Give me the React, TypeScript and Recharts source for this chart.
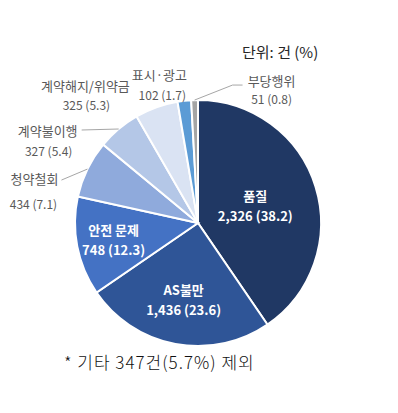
import React from 'react';
import { PieChart, Pie, Cell } from 'recharts';

const categories = ['품질', 'AS불만', '안전 문제', '청약철회', '계약불이행', '계약해지/위약금', '표시·광고', '부당행위'];
const counts = [2326, 1436, 748, 434, 327, 325, 102, 51];
const percents = ['38.2', '23.6', '12.3', '7.1', '5.4', '5.3', '1.7', '0.8'];
const colors = ['#203864', '#2f5597', '#4472c4', '#8faadc', '#b4c7e7', '#dae3f3', '#5b9bd5', '#a5a5a5'];

const data = categories.map((name, i) => ({ name, value: counts[i], pct: percents[i] }));

const FONT = '"Noto Sans CJK KR", "Noto Sans", sans-serif';
const RADIAN = Math.PI / 180;

// label placement: inside labels sit on a radius, outside ones are offset from the slice edge
const labelLayout: any[] = [
  { inside: true, r: 60 },
  { inside: true, r: 78 },
  { inside: true, r: 86 },
  { line: [[-26, 11]], name: [-53, 9], val: [-54, 34] },
  { line: [[-37, 1]], name: [-71, 1], val: [-70, 21] },
  { line: [], name: [-71, -22], val: [-70, -3] },
  { line: [], name: [-25, -26], val: [-22, -6] },
  { line: [[38, -15], [48, -15]], name: [77, -20], val: [77, -2] },
];

const fmt = (n: number) => n.toLocaleString('en-US');

const renderLabel = (props: any) => {
  const { cx, cy, midAngle, outerRadius, index, payload } = props;
  const cfg = labelLayout[index];
  const cos = Math.cos(-midAngle * RADIAN);
  const sin = Math.sin(-midAngle * RADIAN);
  const name = payload.name;
  const valText = `${fmt(payload.value)} (${payload.pct})`;
  if (cfg.inside) {
    const x = cx + cfg.r * cos;
    const y = cy + cfg.r * sin;
    return (
      <g>
        <text x={x} y={y - 10} textAnchor="middle" dominantBaseline="central" fill="#fff" fontSize={13} fontWeight="bold" fontFamily={FONT}>{name}</text>
        <text x={x} y={y + 10} textAnchor="middle" dominantBaseline="central" fill="#fff" fontSize={13} fontWeight="bold" fontFamily={FONT}>{valText}</text>
      </g>
    );
  }
  const ex = cx + outerRadius * cos;
  const ey = cy + outerRadius * sin;
  const pts = [[ex, ey], ...cfg.line.map((p: number[]) => [ex + p[0], ey + p[1]])];
  return (
    <g>
      {pts.length > 1 && (
        <polyline points={pts.map((p) => p.join(',')).join(' ')} fill="none" stroke="#a6a6a6" strokeWidth={1} />
      )}
      <text x={ex + cfg.name[0]} y={ey + cfg.name[1]} textAnchor="middle" dominantBaseline="central" fill="#595959" fontSize={13} fontFamily={FONT}>{name}</text>
      <text x={ex + cfg.val[0]} y={ey + cfg.val[1]} textAnchor="middle" dominantBaseline="central" fill="#595959" fontSize={12} fontFamily={FONT}>{valText}</text>
    </g>
  );
};

const App: React.FC = () => {
  return (
    <div style={{ position: 'absolute', left: 0, top: 0, width: 398, height: 413, background: '#fff', fontFamily: FONT }}>
      <PieChart width={398} height={413} margin={{ top: 0, right: 0, bottom: 0, left: 0 }}>
        <Pie
          data={data}
          dataKey="value"
          nameKey="name"
          cx={198}
          cy={223}
          outerRadius={123}
          startAngle={90}
          endAngle={-270}
          stroke="#fff"
          strokeWidth={2}
          label={renderLabel}
          labelLine={false}
          isAnimationActive={false}
        >
          {data.map((d, i) => (
            <Cell key={d.name} fill={colors[i]} />
          ))}
        </Pie>
      </PieChart>
      <div style={{ position: 'absolute', left: 242, top: 42, fontSize: 15, color: '#262626', whiteSpace: 'nowrap', lineHeight: '20px' }}>
        단위: 건 (%)
      </div>
      <div style={{ position: 'absolute', left: 64, top: 351, fontSize: 17, fontWeight: 300, letterSpacing: 1, color: '#111', whiteSpace: 'nowrap', lineHeight: '22px' }}>
        * 기타 347건(5.7%) 제외
      </div>
    </div>
  );
};

export default App;
